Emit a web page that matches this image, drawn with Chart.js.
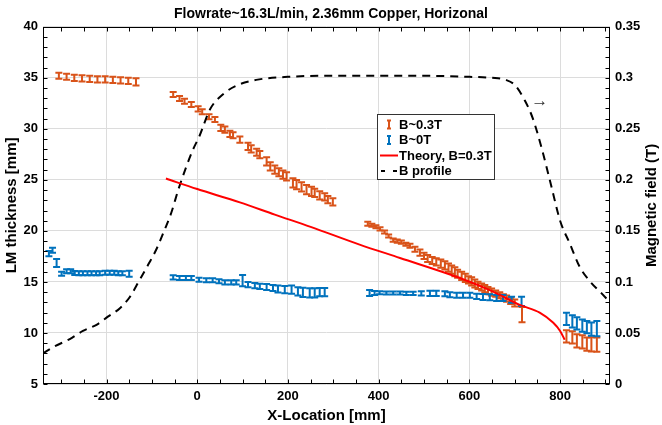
<!DOCTYPE html>
<html lang="en">
<head>
  <meta charset="UTF-8" />
  <title>Flowrate~16.3L/min, 2.36mm Copper, Horizonal</title>
  <script src="https://cdn.jsdelivr.net/npm/chart.js"></script>
  <style>
    body { margin: 0; background: #fff; }
    canvas { display: block; }
  </style>
</head>
<body>
  <canvas id="lmChart" width="662" height="425"></canvas>

  <script>
    // B~0.3T measurements (orange)
    const hiX = [-305, -288, -271, -254, -237, -220, -203, -186, -169, -152, -135,
      -53, -39, -28, -13, 2, 11, 26, 39, 52, 61, 72, 79, 94, 112, 119, 131, 138, 153, 161, 171, 180, 189, 197, 211, 219, 230, 241, 252, 259, 270, 281, 288, 299,
      376, 385, 394, 403, 413, 422, 432, 441, 450, 460, 469, 480, 491, 500, 508, 518, 527, 537, 546, 554, 561, 568, 574, 583, 591, 598, 605, 612, 619, 627, 634, 641, 649, 658, 667, 675, 682, 691, 700, 716,
      814, 827, 837, 849, 859, 869, 881];
    const hiY = [35.2, 35.1, 35.0, 34.95, 34.9, 34.85, 34.85, 34.8, 34.75, 34.7, 34.6,
      33.36, 32.97, 32.71, 32.38, 31.96, 31.67, 31.18, 30.91, 30.1, 29.93, 29.51, 29.37, 28.95, 28.29, 28.04, 27.71, 27.48, 26.82, 26.33, 26.01, 25.75, 25.52, 25.35, 24.7, 24.54, 24.31, 24.05, 23.88, 23.73, 23.49, 23.33, 23.07, 22.84,
      20.7, 20.55, 20.4, 20.2, 19.9, 19.5, 19.1, 19.0, 18.9, 18.7, 18.55, 18.2, 17.87, 17.55, 17.3, 17.1, 16.96, 16.8, 16.63, 16.4, 16.2, 16.0, 15.8, 15.6, 15.4, 15.2, 15.06, 14.85, 14.67, 14.5, 14.34, 14.15, 14.0, 13.85, 13.7, 13.5, 13.36, 13.15, 12.94, 11.8,
      9.67, 9.57, 9.22, 9.13, 8.9, 8.88, 8.85];
    const hiErr = [0.3, 0.3, 0.3, 0.3, 0.3, 0.3, 0.3, 0.3, 0.3, 0.3, 0.35,
      0.25, 0.25, 0.25, 0.25, 0.25, 0.25, 0.25, 0.25, 0.3, 0.3, 0.3, 0.3, 0.3, 0.35, 0.35, 0.35, 0.35, 0.4, 0.4, 0.4, 0.4, 0.4, 0.4, 0.45, 0.45, 0.45, 0.45, 0.45, 0.4, 0.4, 0.35, 0.35, 0.35,
      0.2, 0.15, 0.15, 0.15, 0.15, 0.15, 0.15, 0.15, 0.15, 0.15, 0.2, 0.25, 0.3, 0.3, 0.35, 0.35, 0.35, 0.4, 0.4, 0.4, 0.4, 0.45, 0.4, 0.4, 0.4, 0.35, 0.4, 0.4, 0.35, 0.35, 0.35, 0.35, 0.35, 0.3, 0.3, 0.3, 0.3, 0.3, 0.35, 0.75,
      0.6, 0.6, 0.65, 0.65, 0.65, 0.7, 0.7];

    // B~0T measurements (blue)
    const zeroX = [-327, -319, -310, -299, -288, -279, -270, -261, -252, -242, -233, -223, -215, -203, -193, -183, -174, -165, -150,
      -53, -39, -25, -13, 4, 20, 34, 48, 61, 75, 86, 100, 112, 127, 138, 153, 167, 178, 193, 208, 222, 233, 248, 259, 270, 281,
      380, 391, 402, 417, 432, 447, 461, 476, 494, 513, 527, 546, 557, 572, 586, 601, 616, 630, 645, 660, 674, 693, 715,
      814, 827, 837, 849, 859, 869, 881];
    const zeroY = [17.77, 18.1, 16.86, 15.81, 16.04, 16.04, 15.88, 15.85, 15.85, 15.85, 15.85, 15.85, 15.85, 15.9, 15.9, 15.9, 15.85, 15.85, 15.8,
      15.45, 15.39, 15.39, 15.39, 15.22, 15.16, 15.16, 15.06, 14.96, 14.96, 14.96, 15.13, 14.74, 14.64, 14.57, 14.5, 14.41, 14.31, 14.25, 14.25, 14.08, 13.98, 13.92, 13.92, 14.0, 14.0,
      13.92, 13.92, 13.95, 13.92, 13.92, 13.92, 13.88, 13.88, 13.88, 13.88, 13.88, 13.85, 13.75, 13.69, 13.69, 13.69, 13.59, 13.53, 13.5, 13.43, 13.43, 13.26, 13.1,
      11.38, 11.14, 10.93, 10.73, 10.57, 10.37, 10.42];
    const zeroErr = [0.25, 0.25, 0.4, 0.2, 0.2, 0.2, 0.2, 0.2, 0.2, 0.2, 0.2, 0.2, 0.2, 0.2, 0.2, 0.2, 0.2, 0.2, 0.3,
      0.2, 0.2, 0.2, 0.2, 0.2, 0.2, 0.2, 0.2, 0.2, 0.2, 0.2, 0.55, 0.25, 0.25, 0.25, 0.3, 0.3, 0.35, 0.35, 0.4, 0.4, 0.45, 0.45, 0.45, 0.4, 0.4,
      0.3, 0.2, 0.15, 0.15, 0.15, 0.15, 0.15, 0.15, 0.2, 0.25, 0.25, 0.25, 0.25, 0.25, 0.25, 0.25, 0.25, 0.3, 0.3, 0.3, 0.3, 0.3, 0.45,
      0.6, 0.6, 0.6, 0.6, 0.6, 0.65, 0.75];

    // Theory, B=0.3T
    const theoryX = [-69, 0, 94, 171, 250, 358, 447, 579, 650, 711, 755, 785, 800, 810];
    const theoryY = [25.13, 24.1, 22.8, 21.6, 20.4, 18.66, 17.35, 15.39, 14.1, 12.75, 12.0, 11.0, 10.2, 9.34];

    // B profile (right axis, T)
    const profileX = [-340, -314, -281, -252, -222, -197, -171, -149, -127, -108, -90, -72, -57, -42, -24, -9, 5, 28, 57, 90, 130, 200, 300, 400, 500, 600, 650, 680, 700, 722, 740, 760, 780, 800, 821, 843, 866, 891, 910];
    const profileY = [0.030, 0.037, 0.044, 0.052, 0.058, 0.066, 0.074, 0.085, 0.102, 0.117, 0.132, 0.151, 0.168, 0.190, 0.213, 0.230, 0.243, 0.269, 0.284, 0.293, 0.298, 0.301, 0.302, 0.302, 0.302, 0.301, 0.300, 0.298, 0.293, 0.278, 0.260, 0.230, 0.195, 0.160, 0.138, 0.115, 0.1005, 0.089, 0.080];

    const xTicks = [-200, 0, 200, 400, 600, 800];
    const yTicks = [5, 10, 15, 20, 25, 30, 35, 40];
    const y2Ticks = [0, 0.05, 0.1, 0.15, 0.2, 0.25, 0.3, 0.35];

    const ORANGE = '#D95319';
    const BLUE = '#0072BD';
    const FONT = "'Liberation Sans', Arial, sans-serif";
    Chart.defaults.font.family = FONT;
    Chart.defaults.color = '#000';

    const pts = (xs, ys) => xs.map((x, i) => ({ x, y: ys[i] }));

    // errorbars with caps, drawn under the lines
    const errorBars = {
      id: 'errorBars',
      beforeDatasetsDraw(chart) {
        const ctx = chart.ctx;
        chart.data.datasets.forEach((ds, i) => {
          if (!ds.errors) return;
          const meta = chart.getDatasetMeta(i);
          const ys = chart.scales[meta.yAxisID];
          ctx.save();
          ctx.strokeStyle = ds.borderColor;
          ctx.lineWidth = 2;
          meta.data.forEach((pt, j) => {
            const v = ds.data[j].y, e = ds.errors[j];
            const top = ys.getPixelForValue(v + e), bot = ys.getPixelForValue(v - e);
            ctx.beginPath();
            ctx.moveTo(pt.x, top); ctx.lineTo(pt.x, bot);
            ctx.moveTo(pt.x - 3.5, top); ctx.lineTo(pt.x + 3.5, top);
            ctx.moveTo(pt.x - 3.5, bot); ctx.lineTo(pt.x + 3.5, bot);
            ctx.stroke();
          });
          ctx.restore();
        });
      }
    };

    // box, inward ticks, right label, arrow and legend
    const decorations = {
      id: 'decorations',
      afterDraw(chart) {
        const { ctx, chartArea: a, scales } = chart;
        const L = Math.round(a.left) + 0.5, R = Math.round(a.right) - 0.5;
        const T = Math.round(a.top) + 0.5, B = Math.round(a.bottom) - 0.5;
        ctx.save();
        ctx.strokeStyle = '#000';
        ctx.lineWidth = 1;
        ctx.strokeRect(L, T, R - L, B - T);

        ctx.beginPath();
        for (let v = 5; v <= 40; v += 1) {
          const y = Math.round(scales.y.getPixelForValue(v)) + 0.5;
          ctx.moveTo(L, y); ctx.lineTo(L + 4, y);
        }
        for (let k = 0; k <= 35; k++) {
          const y = Math.round(scales.y1.getPixelForValue(k / 100)) + 0.5;
          ctx.moveTo(R, y); ctx.lineTo(R - 4, y);
        }
        for (let v = -300; v <= 900; v += 50) {
          const x = Math.round(scales.x.getPixelForValue(v)) + 0.5;
          ctx.moveTo(x, B); ctx.lineTo(x, B - 4);
          ctx.moveTo(x, T); ctx.lineTo(x, T + 4);
        }
        ctx.stroke();

        // right axis title, reads bottom to top
        ctx.save();
        ctx.translate(652, (a.top + a.bottom) / 2);
        ctx.rotate(-Math.PI / 2);
        ctx.font = 'bold 15px ' + FONT;
        ctx.fillStyle = '#000';
        ctx.textAlign = 'center';
        ctx.textBaseline = 'middle';
        ctx.fillText('Magnetic field (T)', 0, 0);
        ctx.restore();

        // arrow pointing to right axis
        ctx.font = '17px ' + FONT;
        ctx.fillStyle = '#333';
        ctx.textAlign = 'center';
        ctx.textBaseline = 'middle';
        ctx.fillText('→', scales.x.getPixelForValue(755), scales.y1.getPixelForValue(0.277));

        // legend
        const bx = 377.5, by = 114.5, bw = 117, bh = 65;
        ctx.fillStyle = '#fff';
        ctx.fillRect(bx, by, bw, bh);
        ctx.strokeStyle = '#333';
        ctx.strokeRect(bx, by, bw, bh);
        const rows = [
          { text: 'B~0.3T', kind: 'bar', color: ORANGE },
          { text: 'B~0T', kind: 'bar', color: BLUE },
          { text: 'Theory, B=0.3T', kind: 'line', color: '#FF0000' },
          { text: 'B profile', kind: 'dash', color: '#000' }
        ];
        ctx.font = 'bold 13px ' + FONT;
        ctx.textAlign = 'left';
        rows.forEach((r, i) => {
          const cy = 124.5 + i * 15.5;
          ctx.strokeStyle = r.color;
          ctx.lineWidth = 2;
          ctx.beginPath();
          if (r.kind === 'bar') {
            ctx.moveTo(389, cy - 4); ctx.lineTo(389, cy + 4);
            ctx.moveTo(387, cy - 4); ctx.lineTo(391, cy - 4);
            ctx.moveTo(387, cy + 4); ctx.lineTo(391, cy + 4);
          } else if (r.kind === 'line') {
            ctx.moveTo(380, cy); ctx.lineTo(398, cy);
          } else {
            ctx.moveTo(381, cy); ctx.lineTo(385, cy);
            ctx.moveTo(393, cy); ctx.lineTo(397, cy);
          }
          ctx.stroke();
          ctx.fillStyle = '#000';
          ctx.fillText(r.text, 399, cy + 0.5);
        });
        ctx.restore();
      }
    };

    const tickFont = { size: 13, weight: 'bold' };
    const gridStyle = { color: '#dcdcdc', lineWidth: 1, drawTicks: false };

    new Chart(document.getElementById('lmChart'), {
      type: 'scatter',
      data: {
        datasets: [
          {
            label: 'B~0.3T',
            data: pts(hiX, hiY),
            errors: hiErr,
            borderColor: ORANGE,
            backgroundColor: ORANGE,
            pointRadius: 0,
            showLine: false,
            yAxisID: 'y'
          },
          {
            label: 'B~0T',
            data: pts(zeroX, zeroY),
            errors: zeroErr,
            borderColor: BLUE,
            backgroundColor: BLUE,
            pointRadius: 0,
            showLine: false,
            yAxisID: 'y'
          },
          {
            label: 'Theory, B=0.3T',
            data: pts(theoryX, theoryY),
            borderColor: '#FF0000',
            borderWidth: 2,
            pointRadius: 0,
            showLine: true,
            cubicInterpolationMode: 'monotone',
            yAxisID: 'y'
          },
          {
            label: 'B profile',
            data: pts(profileX, profileY),
            borderColor: '#000',
            borderWidth: 2,
            borderDash: [8, 6],
            pointRadius: 0,
            showLine: true,
            cubicInterpolationMode: 'monotone',
            yAxisID: 'y1'
          }
        ]
      },
      options: {
        responsive: false,
        animation: false,
        layout: { padding: 0 },
        plugins: {
          legend: { display: false },
          tooltip: { enabled: false },
          title: {
            display: true,
            text: 'Flowrate~16.3L/min, 2.36mm Copper, Horizonal',
            font: { size: 14, weight: 'bold' },
            color: '#000',
            padding: { top: 6, bottom: 4 }
          }
        },
        scales: {
          x: {
            type: 'linear',
            min: -340,
            max: 910,
            afterBuildTicks: s => { s.ticks = xTicks.map(v => ({ value: v })); },
            afterFit: s => { s.height = 41; },
            ticks: { font: tickFont, padding: 5, maxRotation: 0 },
            grid: gridStyle,
            border: { display: false },
            title: { display: true, text: 'X-Location [mm]', font: { size: 15, weight: 'bold' }, padding: { top: 0, bottom: 0 } }
          },
          y: {
            position: 'left',
            min: 5,
            max: 40,
            afterBuildTicks: s => { s.ticks = yTicks.map(v => ({ value: v })); },
            afterFit: s => { s.width = 43; },
            ticks: { font: tickFont, padding: 5 },
            grid: gridStyle,
            border: { display: false },
            title: { display: true, text: 'LM thickness [mm]', font: { size: 15, weight: 'bold' }, padding: { top: 3, bottom: 0 } }
          },
          y1: {
            position: 'right',
            min: 0,
            max: 0.35,
            afterBuildTicks: s => { s.ticks = y2Ticks.map(v => ({ value: v })); },
            afterFit: s => { s.width = 52; },
            ticks: { font: tickFont, padding: 5, callback: v => String(+v.toFixed(2)) },
            grid: { display: false, drawTicks: false },
            border: { display: false }
          }
        }
      },
      plugins: [errorBars, decorations]
    });
  </script>
</body>
</html>
